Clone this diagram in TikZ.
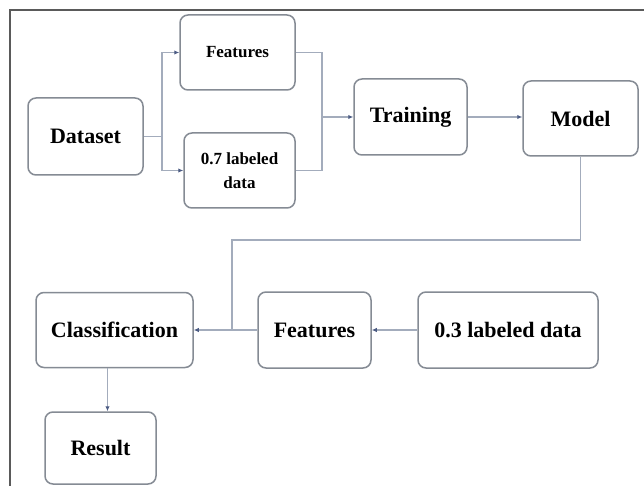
\documentclass[tikz,border=0pt]{standalone}
\usepackage{fontspec}
\setmainfont{Liberation Serif}
\usepackage{tikz}
\usetikzlibrary{arrows.meta,positioning,calc}
\definecolor{Edge}{HTML}{858B94}
\definecolor{Wire}{HTML}{A3ACBC}
\definecolor{Tip}{HTML}{4C5C84}
\definecolor{Frame}{HTML}{5A5A5A}

\begin{document}
\begin{tikzpicture}[x=1pt,y=-1pt,
  box/.style={draw=Edge,fill=white,rounded corners=8pt,line width=1.5pt,
    align=center,inner sep=2pt,font=\bfseries\fontsize{22}{24}\selectfont},
  small/.style={font=\bfseries\fontsize{17}{24}\selectfont},
  link/.style={line width=1.1pt,Wire},
  arrow/.style={link,-{Latex[length=5pt,width=4.5pt,color=Tip]}}]
  \useasboundingbox (0,0) rectangle (644,486);
  \fill[white] (0,0) rectangle (644,486);
  \draw[Frame,line width=1.5pt] (10,486) -- (10,10) -- (644,10);

  \node[box,minimum width=115pt,minimum height=77pt] (a) at (85.5,136.5) {Dataset};
  \node[box,small,minimum width=115pt,minimum height=75pt] (b) at (237.5,52.5) {Features};
  \node[box,small,minimum width=111pt,minimum height=75pt] (c) at (239.5,170.5) {0.7 labeled\\data};
  \node[box,minimum width=113pt,minimum height=76pt] (d) at (410.5,117) {Training};
  \node[box,minimum width=115pt,minimum height=75pt] (e) at (580.5,118.5) {Model};
  \node[box,minimum width=157pt,minimum height=75pt] (f) at (114.5,330) {Classification};
  \node[box,minimum width=113pt,minimum height=76pt] (g) at (314.5,330) {Features};
  \node[box,minimum width=180pt,minimum height=76pt] (h) at (508,330) {0.3 labeled data};
  \node[box,minimum width=111pt,minimum height=72pt] (i) at (100.5,448) {Result};

  \coordinate (j1) at (162,136.5);
  \coordinate (j2) at (322,117);
  \coordinate (j3) at (232,240);

  \draw[link] (a.east) -- (j1);
  \draw[arrow] (j1) |- (b.west);
  \draw[arrow] (j1) |- (c.west);
  \draw[link] (b.east) -| (j2);
  \draw[link] (c.east) -| (j2);
  \draw[arrow] (j2) -- (d.west);
  \draw[arrow] (d.east) -- (e.west |- d.east);
  \draw[link] (e.south) |- (j3) -- (j3 |- f.east);
  \draw[arrow] (h.west) -- (g.east);
  \draw[arrow] (g.west) -- (f.east);
  \draw[arrow] ([xshift=-7pt]f.south) -- ([xshift=7pt]i.north);
\end{tikzpicture}
\end{document}
